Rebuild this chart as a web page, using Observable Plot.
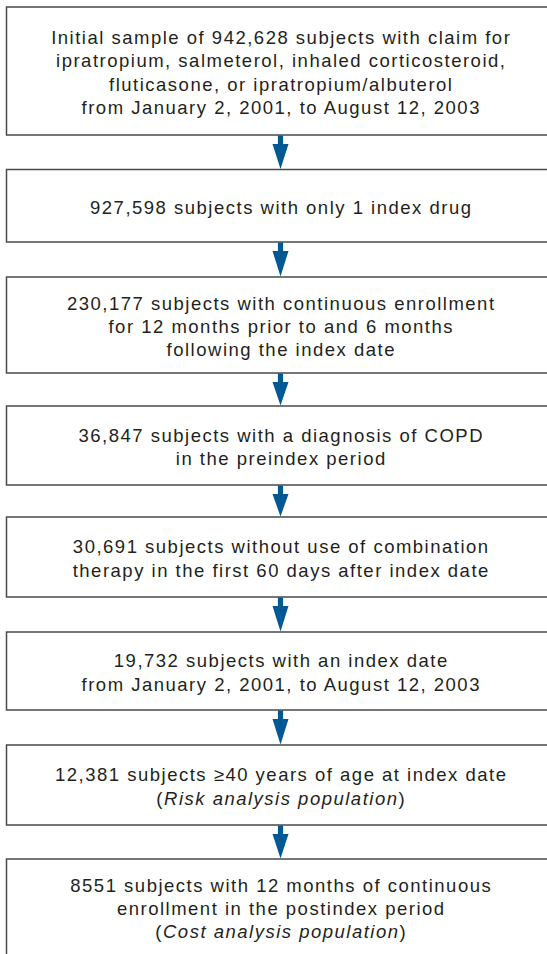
<!DOCTYPE html>
<html>
<head>
<meta charset="utf-8">
<script src="https://cdn.jsdelivr.net/npm/d3@7"></script>
<script src="https://cdn.jsdelivr.net/npm/@observablehq/plot@0.6"></script>
<style>
  html, body { margin: 0; padding: 0; background: #fff; overflow: hidden; }
  #chart svg { display: block; }
  #chart text { letter-spacing: 1.5px; }
</style>
</head>
<body>
<div id="chart"></div>
<script>
// Flowchart step labels (underscores mark italic spans)
const steps = [
  "Initial sample of 942,628 subjects with claim for\nipratropium, salmeterol, inhaled corticosteroid,\nfluticasone, or ipratropium/albuterol\nfrom January 2, 2001, to August 12, 2003",
  "927,598 subjects with only 1 index drug",
  "230,177 subjects with continuous enrollment\nfor 12 months prior to and 6 months\nfollowing the index date",
  "36,847 subjects with a diagnosis of COPD\nin the preindex period",
  "30,691 subjects without use of combination\ntherapy in the first 60 days after index date",
  "19,732 subjects with an index date\nfrom January 2, 2001, to August 12, 2003",
  "12,381 subjects \u226540 years of age at index date\n(_Risk analysis population_)",
  "8551 subjects with 12 months of continuous\nenrollment in the postindex period\n(_Cost analysis population_)"
];
const subjectCounts = [942628, 927598, 230177, 36847, 30691, 19732, 12381, 8551];

// Layout (pixel units)
const boxHeights = [128, 72.5, 96, 79, 80, 78, 80, 96];
const boxGaps = [34.5, 35, 33, 32, 35, 35, 34];
const top0 = 7;

const boxes = [];
let y = top0;
steps.forEach((label, i) => {
  const h = boxHeights[i];
  boxes.push({label, count: subjectCounts[i], y1: y, y2: y + h, yc: y + h / 2});
  y += h + (boxGaps[i] || 0);
});
const arrows = boxes.slice(0, -1).map((b, i) => ({y: b.y2, len: boxes[i + 1].y1 - b.y2}));

const blockArrow = {
  draw(context, l) {
    const sw = 2.6, hw = 8, shaft = 8.5;
    context.moveTo(-sw, 0);
    context.lineTo(-sw, -shaft);
    context.lineTo(-hw, -shaft);
    context.lineTo(0, -l + 1);
    context.lineTo(hw, -shaft);
    context.lineTo(sw, -shaft);
    context.lineTo(sw, 0);
    context.closePath();
  }
};

const cx = 280;
const chart = Plot.plot({
  width: 547,
  height: 954,
  margin: 0,
  x: {domain: [0, 547], range: [0, 547], axis: null},
  y: {domain: [0, 954], range: [0, 954], axis: null},
  length: {type: "identity"},
  style: {fontFamily: "'Liberation Sans', Arial, sans-serif", background: "#fff", overflow: "hidden"},
  marks: [
    Plot.rect(boxes, {x1: 6.5, x2: 555, y1: "y1", y2: "y2", fill: "#fff", stroke: "#4a4a4a", strokeWidth: 1.5}),
    Plot.vector(arrows, {x: cx, y: "y", length: "len", rotate: 180, anchor: "start", shape: blockArrow, fill: "#005894", stroke: "none"}),
    Plot.text(boxes, {x: cx + 0.75, y: "yc", text: "label", fontSize: 18.5, lineHeight: 1.26, fill: "#231f20", textAnchor: "middle"})
  ]
});
document.getElementById("chart").appendChild(chart);

// Render _..._ segments in italics
chart.querySelectorAll("tspan, text").forEach(node => {
  if (node.children.length === 0 && node.textContent.includes("_")) {
    const parts = node.textContent.split("_");
    node.textContent = "";
    parts.forEach((p, i) => {
      const t = document.createElementNS("http://www.w3.org/2000/svg", "tspan");
      t.textContent = p;
      if (i % 2 === 1) t.setAttribute("font-style", "italic");
      node.appendChild(t);
    });
  }
});
</script>
</body>
</html>
